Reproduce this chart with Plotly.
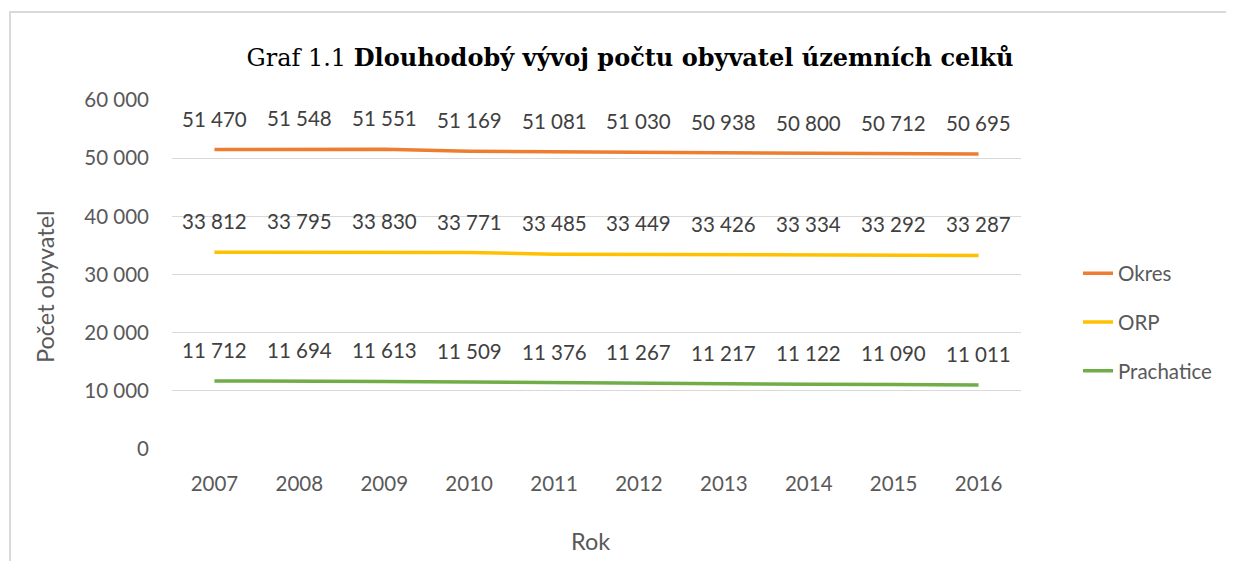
import plotly.graph_objects as go

years = [2007, 2008, 2009, 2010, 2011, 2012, 2013, 2014, 2015, 2016]
okres = [51470, 51548, 51551, 51169, 51081, 51030, 50938, 50800, 50712, 50695]
orp = [33812, 33795, 33830, 33771, 33485, 33449, 33426, 33334, 33292, 33287]
prachatice = [11712, 11694, 11613, 11509, 11376, 11267, 11217, 11122, 11090, 11011]

series = [("Okres", okres, "#ED7D31"), ("ORP", orp, "#FFC000"), ("Prachatice", prachatice, "#70AD47")]

FONT = "Lato"
GREY = "#595959"
OFF = 8  # page body margin

W, H = 1234 - OFF, 561 - OFF
# plot area in reference pixels, converted to figure pixels
L, R, T, B = 172 - OFF, 1021 - OFF, 100 - OFF, 449 - OFF
def px_x(px):
    return (px - OFF - L) / (R - L)
def px_y(py):
    return (B - (py - OFF)) / (B - T)

fig = go.Figure()
annotations = []
for i, (name, vals, col) in enumerate(series):
    fig.add_trace(go.Scatter(
        x=[str(y) for y in years], y=vals, name=name, mode="lines",
        line=dict(color=col, width=3.5), legendgroup=f"g{i}",
        hoverinfo="skip"))
    for j, v in enumerate(vals):
        annotations.append(dict(
            x=j, y=v, xref="x", yref="y", text=f"{v:,}".replace(",", " "),
            showarrow=False, yshift=31, font=dict(family=FONT, size=20.5, color="#404040")))

annotations.append(dict(
    x=px_x(45), y=px_y(287), xref="paper", yref="paper", text="Počet obyvatel",
    xanchor="center", yanchor="middle",
    textangle=-90, showarrow=False, font=dict(family=FONT, size=23.5, color=GREY)))
annotations.append(dict(
    x=px_x(590), y=px_y(541), xref="paper", yref="paper", text="Rok",
    xanchor="center", yanchor="middle",
    showarrow=False, font=dict(family=FONT, size=23.5, color=GREY)))

fig.update_layout(
    width=W, height=H,
    margin=dict(l=L, r=W - R, t=T, b=H - B, pad=0),
    paper_bgcolor="white", plot_bgcolor="white",
    separators=", ",
    title=dict(
        text="Graf 1.1 <b>Dlouhodobý vývoj počtu obyvatel územních celků</b>",
        x=(630 - OFF) / W, xanchor="center", y=1 - (58 - OFF) / H, yanchor="middle",
        font=dict(family="DejaVu Serif", size=24, color="black")),
    font=dict(family=FONT, size=20.5, color=GREY),
    xaxis=dict(type="category", range=[-0.5, 9.5], showgrid=False, showline=False,
               ticks="", ticklabelstandoff=20, tickfont=dict(family=FONT, size=20.5, color=GREY)),
    yaxis=dict(range=[0, 60000], tickvals=[0, 10000, 20000, 30000, 40000, 50000, 60000],
               tickformat=",d", showgrid=True, gridcolor="#D9D9D9", gridwidth=1.3,
               zeroline=False, showline=False, ticks="", ticklabelstandoff=22,
               tickfont=dict(family=FONT, size=20.5, color=GREY)),
    legend=dict(x=px_x(1078), xanchor="left", y=px_y(322), yanchor="middle",
                traceorder="grouped", tracegroupgap=19, font=dict(family=FONT, size=20.5, color=GREY),
                bgcolor="rgba(0,0,0,0)"),
    annotations=annotations,
    shapes=[dict(type="rect", xref="paper", yref="paper",
                 x0=px_x(10), x1=px_x(1300), y0=px_y(12), y1=px_y(620),
                 line=dict(color="#D9D9D9", width=2), fillcolor="rgba(0,0,0,0)", layer="below")],
)

fig.write_html("out.html")
